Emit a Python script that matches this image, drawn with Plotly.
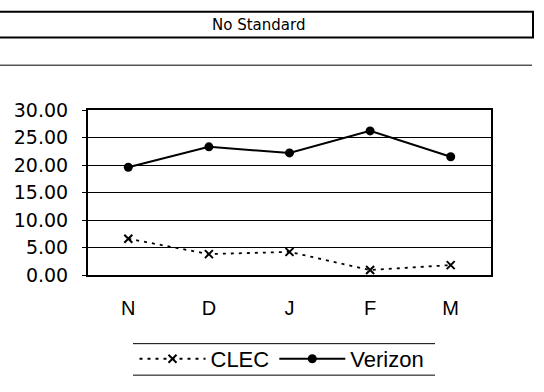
import plotly.graph_objects as go

# Monthly values
months = ["N", "D", "J", "F", "M"]
clec = [6.6, 3.8, 4.2, 0.9, 1.8]
verizon = [19.6, 23.3, 22.2, 26.2, 21.5]
y_ticks = [0, 5, 10, 15, 20, 25, 30]
y_tick_labels = ["0.00", "5.00", "10.00", "15.00", "20.00", "25.00", "30.00"]

SANS = "Liberation Sans, Arial, sans-serif"
WIDE = "DejaVu Sans, Verdana, sans-serif"

# plot area in pixels
L, R, T, B = 88, 491, 110, 283
W, H = 544, 392


def px(x):
    return (x - L) / (R - L)


def py(y):
    return (B - y) / (B - T)


fig = go.Figure()
fig.add_trace(go.Scatter(
    x=months, y=clec, name="CLEC", mode="lines+markers",
    line=dict(color="black", width=1.8, dash="3px,5px"),
    marker=dict(symbol="x-thin", size=8, line=dict(color="black", width=2)),
))
fig.add_trace(go.Scatter(
    x=months, y=verizon, name="Verizon", mode="lines+markers",
    line=dict(color="black", width=2),
    marker=dict(symbol="circle", size=9, color="black"),
))

shapes = [
    # header box
    dict(type="rect", xref="paper", yref="paper",
         x0=px(-6), x1=px(533), y0=py(7), y1=py(34),
         line=dict(color="black", width=2)),
    # rule under header
    dict(type="line", xref="paper", yref="paper",
         x0=px(0), x1=px(532), y0=py(63), y1=py(63),
         line=dict(color="black", width=1)),
    # legend rules
    dict(type="line", xref="paper", yref="paper",
         x0=px(133), x1=px(435), y0=py(355), y1=py(355),
         line=dict(color="black", width=1)),
    dict(type="line", xref="paper", yref="paper",
         x0=px(133), x1=px(435), y0=py(388), y1=py(388),
         line=dict(color="black", width=1)),
]

fig.update_layout(
    width=W, height=H,
    margin=dict(l=L, r=W - R, t=T, b=H - B),
    paper_bgcolor="white", plot_bgcolor="white",
    font=dict(family=SANS, color="black"),
    shapes=shapes,
    annotations=[dict(
        text="No Standard", xref="paper", yref="paper",
        x=px(258), y=py(21), xanchor="center", yanchor="middle",
        showarrow=False,
        font=dict(size=15, family=WIDE, color="black"),
    )],
    showlegend=True,
    legend=dict(
        orientation="h", x=px(282), y=py(371),
        xanchor="center", yanchor="middle",
        font=dict(size=22, family=SANS, color="black"),
        bgcolor="rgba(0,0,0,0)", itemwidth=66,
    ),
    xaxis=dict(
        range=[-0.5, 4.5], showgrid=False, zeroline=False,
        showline=True, linecolor="black", linewidth=2, mirror=True,
        ticks="", tickfont=dict(size=20, family=SANS, color="black"),
        ticklabelstandoff=14,
    ),
    yaxis=dict(
        range=[0, 30], tickvals=y_ticks, ticktext=y_tick_labels,
        showgrid=True, gridcolor="black", gridwidth=1,
        zeroline=False, showline=True, linecolor="black", linewidth=2,
        mirror=True, ticks="outside", ticklen=4, tickcolor="black",
        tickwidth=1, ticklabelstandoff=10,
        tickfont=dict(size=19, family=WIDE, color="black"),
    ),
)

fig.write_html("out.html")
